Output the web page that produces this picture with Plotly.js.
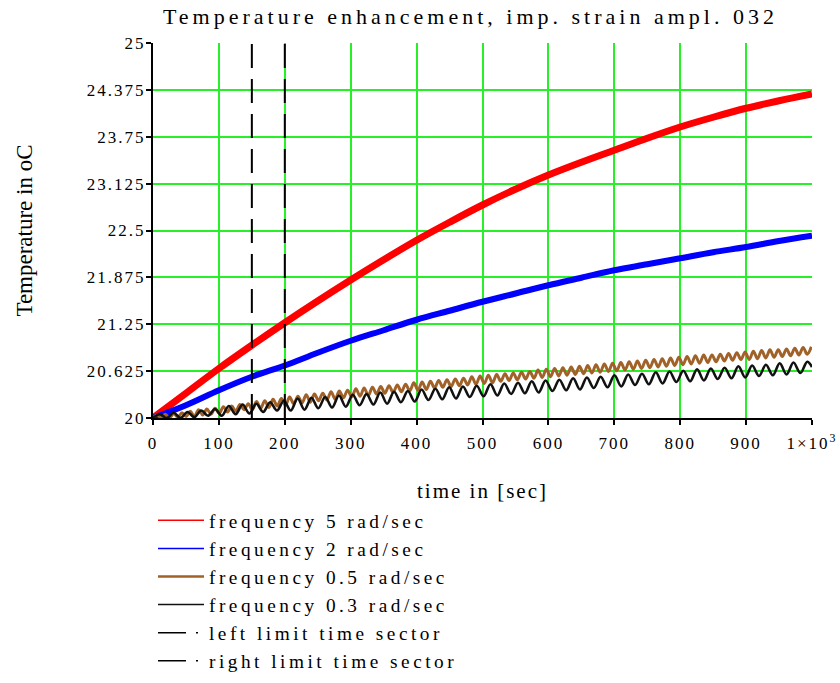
<!DOCTYPE html>
<html>
<head>
<meta charset="utf-8">
<script src="https://cdn.plot.ly/plotly-3.0.1.min.js"></script>
<style>
  html, body { margin: 0; padding: 0; background: #fff; }
  #chart { width: 840px; height: 683px; }
  .gtitle { letter-spacing: 4px; }
  .legendtext { letter-spacing: 3.5px; }
  .xtick text, .ytick text { letter-spacing: 2px; }
  .xtitle { letter-spacing: 2px; }
</style>
</head>
<body>
<div id="chart"></div>
<script>
// ---- data ----
const trendTimes = [0,50,100,150,200,250,300,350,400,450,500,550,600,650,700,750,800,850,900,950,1000];
const temp5 = [20.00,20.33,20.66,20.97,21.27,21.56,21.84,22.11,22.37,22.61,22.84,23.05,23.24,23.41,23.57,23.73,23.88,24.01,24.13,24.23,24.32];
const temp2 = [20.00,20.17,20.37,20.55,20.70,20.87,21.03,21.17,21.31,21.43,21.55,21.66,21.77,21.87,21.97,22.05,22.13,22.21,22.28,22.36,22.43];

const times05 = [0,6.3,12.6,18.8,25.1,31.4,37.7,44.0,50.3,56.5,62.8,69.1,75.4,81.7,88.0,94.2,100.5,106.8,113.1,119.4,
 125.7,131.9,138.2,144.5,150.8,157.1,163.4,169.6,175.9,182.2,188.5,194.8,201.1,207.3,213.6,219.9,226.2,232.5,238.8,245.0,
 251.3,257.6,263.9,270.2,276.5,282.7,289.0,295.3,301.6,307.9,314.2,320.4,326.7,333.0,339.3,345.6,351.9,358.1,364.4,370.7,
 377.0,383.3,389.6,395.8,402.1,408.4,414.7,421.0,427.3,433.5,439.8,446.1,452.4,458.7,465.0,471.2,477.5,483.8,490.1,496.4,
 502.7,508.9,515.2,521.5,527.8,534.1,540.4,546.6,552.9,559.2,565.5,571.8,578.1,584.3,590.6,596.9,603.2,609.5,615.8,622.0,
 628.3,634.6,640.9,647.2,653.5,659.7,666.0,672.3,678.6,684.9,691.2,697.4,703.7,710.0,716.3,722.6,728.9,735.1,741.4,747.7,
 754.0,760.3,766.6,772.8,779.1,785.4,791.7,798.0,804.2,810.5,816.8,823.1,829.4,835.7,841.9,848.2,854.5,860.8,867.1,873.4,
 879.6,885.9,892.2,898.5,904.8,911.1,917.3,923.6,929.9,936.2,942.5,948.8,955.0,961.3,967.6,973.9,980.2,986.5,992.7,999.0];
const temp05 = [20.00,20.04,20.00,20.05,20.00,20.06,20.01,20.07,20.02,20.09,
 20.02,20.11,20.04,20.12,20.05,20.13,20.06,20.15,20.08,20.16,
 20.09,20.18,20.11,20.19,20.11,20.22,20.13,20.23,20.14,20.25,
 20.16,20.26,20.17,20.28,20.19,20.29,20.20,20.31,20.21,20.32,
 20.23,20.33,20.24,20.35,20.25,20.36,20.27,20.37,20.28,20.39,
 20.29,20.40,20.30,20.41,20.32,20.42,20.33,20.43,20.34,20.44,
 20.35,20.45,20.36,20.47,20.37,20.48,20.38,20.49,20.40,20.50,
 20.41,20.51,20.42,20.52,20.43,20.53,20.44,20.55,20.45,20.56,
 20.46,20.57,20.47,20.58,20.49,20.59,20.50,20.60,20.51,20.61,
 20.52,20.62,20.53,20.64,20.54,20.65,20.55,20.66,20.56,20.67,
 20.57,20.68,20.58,20.69,20.59,20.70,20.60,20.71,20.61,20.72,
 20.62,20.73,20.63,20.74,20.64,20.75,20.65,20.76,20.66,20.77,
 20.67,20.78,20.68,20.79,20.69,20.80,20.70,20.81,20.71,20.82,
 20.72,20.83,20.73,20.84,20.74,20.84,20.75,20.85,20.76,20.86,
 20.77,20.87,20.78,20.88,20.78,20.89,20.79,20.90,20.80,20.91,
 20.81,20.91,20.82,20.92,20.83,20.93,20.84,20.94,20.85,20.95];

const times03 = [0,10.5,20.9,31.4,41.8,52.3,62.7,73.2,83.6,94.1,104.5,115.0,125.4,135.9,146.3,156.8,167.2,177.7,188.1,198.6,
 209.0,219.5,229.9,240.4,250.8,261.3,271.7,282.2,292.6,303.1,313.5,324.0,334.4,344.9,355.3,365.8,376.2,386.7,397.1,407.6,
 418.0,428.5,438.9,449.4,459.8,470.3,480.7,491.2,501.6,512.1,522.5,533.0,543.4,553.9,564.3,574.8,585.2,595.7,606.1,616.6,
 627.0,637.5,647.9,658.4,668.8,679.3,689.7,700.2,710.6,721.1,731.5,742.0,752.4,762.9,773.3,783.8,794.2,804.7,815.1,825.6,
 836.0,846.5,856.9,867.4,877.8,888.3,898.7,909.2,919.6,930.1,940.5,951.0,961.4,971.9,982.3,992.8,1000];
const temp03 = [20.00,20.05,20.00,20.07,20.00,20.08,20.01,20.10,20.03,20.12,
 20.03,20.16,20.05,20.18,20.06,20.19,20.08,20.21,20.10,20.23,
 20.10,20.26,20.11,20.27,20.13,20.28,20.14,20.30,20.15,20.31,
 20.17,20.32,20.18,20.34,20.19,20.35,20.21,20.36,20.22,20.38,
 20.24,20.39,20.25,20.41,20.26,20.42,20.28,20.43,20.29,20.45,
 20.30,20.46,20.32,20.47,20.33,20.49,20.34,20.50,20.36,20.51,
 20.37,20.53,20.38,20.54,20.40,20.55,20.41,20.57,20.42,20.58,
 20.44,20.59,20.45,20.61,20.46,20.62,20.48,20.63,20.49,20.65,
 20.50,20.66,20.52,20.67,20.53,20.69,20.54,20.70,20.56,20.71,
 20.57,20.73,20.58,20.74,20.60,20.75,20.68];

const leftLimit = 150;
const rightLimit = 200;
const yRange = [20, 25];

const xTickVals = [0,100,200,300,400,500,600,700,800,900,1000];
const xTickText = ["0","100","200","300","400","500","600","700","800","900","1×10<sup>3</sup>"];
const yTickVals = [20,20.625,21.25,21.875,22.5,23.125,23.75,24.375,25];
const yTickText = ["20","20.625","21.25","21.875","22.5","23.125","23.75","24.375","25"];

const seriesNames = ["frequency 5 rad/sec","frequency 2 rad/sec","frequency 0.5 rad/sec","frequency 0.3 rad/sec","left limit time sector","right limit time sector"];
const seriesColors = ["#ff0000","#0000ff","rgb(160,98,40)","#111111","#000000","#000000"];

// ---- drawing ----
const serif = "Liberation Serif";
const traces = [
  {x: trendTimes, y: temp5, name: seriesNames[0], mode: "lines", showlegend: false, line: {color: seriesColors[0], width: 7, shape: "spline"}},
  {x: trendTimes, y: temp2, name: seriesNames[1], mode: "lines", showlegend: false, line: {color: seriesColors[1], width: 6, shape: "spline"}},
  {x: times05, y: temp05, name: seriesNames[2], mode: "lines", showlegend: false, line: {color: seriesColors[2], width: 3, shape: "spline"}},
  {x: times03, y: temp03, name: seriesNames[3], mode: "lines", showlegend: false, line: {color: seriesColors[3], width: 2.6, shape: "spline"}},
  {x: [leftLimit, leftLimit], y: yRange, name: seriesNames[4], mode: "lines", showlegend: false, line: {color: seriesColors[4], width: 2, dash: "24px,11px"}},
  {x: [rightLimit, rightLimit], y: yRange, name: seriesNames[5], mode: "lines", showlegend: false, line: {color: seriesColors[5], width: 2, dash: "24px,11px"}}
];
// legend entries (thin samples, as in the reference legend)
const legendDash = ["solid","solid","solid","solid","28px,10px,2px,40px","28px,10px,2px,40px"];
const legendWidth = [1.5,1.5,2.5,1.5,1.5,1.5];
seriesNames.forEach((nm, i) => {
  traces.push({x: [null], y: [null], name: nm, mode: "lines", showlegend: true,
               line: {color: seriesColors[i], width: legendWidth[i], dash: legendDash[i]}});
});

const layout = {
  width: 840, height: 683,
  margin: {l: 153, r: 28, t: 43, b: 265, autoexpand: false},
  paper_bgcolor: "#ffffff", plot_bgcolor: "#ffffff",
  font: {family: serif, color: "#000000"},
  title: {text: "Temperature enhancement, imp. strain ampl. 032", font: {family: serif, size: 22, color: "#000"},
          x: 0.56, xanchor: "center", y: 0.976, yanchor: "middle", yref: "container"},
  xaxis: {
    range: [0, 1000], tickvals: xTickVals, ticktext: xTickText,
    showgrid: true, gridcolor: "rgb(40,240,40)", gridwidth: 2, zeroline: false,
    showline: true, linecolor: "#000", linewidth: 2,
    ticks: "outside", ticklen: 5, tickwidth: 2, tickcolor: "#000",
    tickfont: {family: serif, size: 17, color: "#000"},
    ticklabelstandoff: 4,
    title: {text: "time in [sec]", font: {family: serif, size: 21, color: "#000"}, standoff: 31},
    automargin: false
  },
  yaxis: {
    range: yRange, tickvals: yTickVals, ticktext: yTickText,
    showgrid: true, gridcolor: "rgb(40,240,40)", gridwidth: 2, zeroline: false,
    showline: true, linecolor: "#000", linewidth: 2,
    ticks: "outside", ticklen: 5, tickwidth: 2, tickcolor: "#000",
    tickfont: {family: serif, size: 17, color: "#000"},
    ticklabelstandoff: -3,
    title: {text: "Temperature in oC", font: {family: serif, size: 23, color: "#000"}, standoff: 48},
    automargin: false
  },
  showlegend: true,
  legend: {
    x: 0, xanchor: "left", y: -0.222, yanchor: "top",
    font: {family: serif, size: 19.3, color: "#000"},
    itemwidth: 46,
    bgcolor: "rgba(0,0,0,0)", borderwidth: 0, tracegroupgap: 0,
    traceorder: "normal"
  }
};

Plotly.newPlot("chart", traces, layout, {displayModeBar: false, staticPlot: true});
</script>
</body>
</html>
